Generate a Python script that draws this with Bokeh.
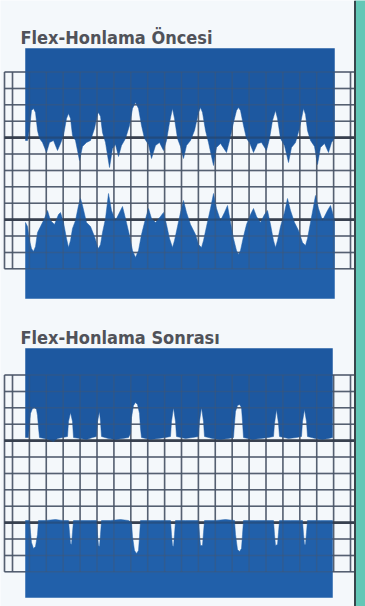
from bokeh.plotting import figure
from bokeh.models import Range1d
from bokeh.core.properties import value
from bokeh.embed import file_html
from bokeh.resources import INLINE

# ---------------- data (profile readings, panel units ~ px) ----------------
titles = ["Flex-Honlama Öncesi", "Flex-Honlama Sonrası"]

before_top_x = [25, 27, 29, 31, 33, 35, 37, 39, 42, 46, 49, 53, 57, 60, 63, 66, 68, 70, 72, 75,
                79, 82, 86, 90, 94, 97, 98, 100, 102, 105, 109, 112, 115, 118, 121, 125, 129, 132,
                135, 138, 141, 144, 148, 151, 155, 159, 163, 166, 169, 172, 174, 177, 180, 183, 186,
                190, 194, 198, 200, 202, 205, 208, 213, 216, 220, 226, 229, 233, 236, 238, 240, 243,
                246, 249, 253, 257, 261, 266, 269, 272, 275, 277, 280, 284, 288, 291, 295, 299, 303,
                305, 307, 310, 314, 317, 320, 324, 328, 331, 334]
before_top_y = [140, 140, 128, 110, 108, 112, 130, 138, 142, 152, 142, 140, 150, 143, 135, 118, 113, 118, 135, 140,
                160, 146, 142, 140, 128, 114, 112, 116, 132, 142, 167, 148, 144, 156, 145, 138, 125, 108,
                102, 108, 125, 138, 144, 158, 145, 142, 150, 140, 122, 108, 118, 138, 146, 158, 145,
                140, 130, 112, 107, 112, 130, 142, 165, 147, 143, 152, 140, 122, 110, 107, 110, 125,
                138, 142, 152, 143, 142, 150, 138, 120, 110, 118, 138, 145, 162, 147, 142, 128, 108,
                114, 130, 140, 146, 164, 147, 143, 152, 142, 138]

before_bot_x = [25, 27, 29, 31, 33, 35, 37, 40, 44, 47, 50, 54, 58, 60, 63, 66, 68, 70, 72, 75,
                78, 80, 82, 86, 90, 94, 97, 98, 100, 102, 105, 108, 111, 115, 120, 122, 125, 129,
                132, 135, 138, 141, 144, 148, 151, 155, 160, 163, 166, 169, 172, 174, 177, 180,
                183, 186, 190, 195, 198, 201, 203, 206, 210, 213, 216, 220, 224, 227, 230, 233,
                236, 238, 240, 243, 246, 250, 253, 256, 260, 264, 267, 270, 273, 275, 277, 280,
                284, 287, 290, 294, 298, 302, 305, 307, 310, 313, 315, 318, 322, 327, 330, 332, 334]
before_bot_y = [222, 226, 240, 248, 251, 246, 232, 226, 218, 210, 220, 224, 214, 212, 222, 238, 247, 240, 228, 220,
                205, 198, 205, 222, 226, 236, 246, 248, 244, 232, 218, 193, 210, 220, 210, 206, 218, 235,
                250, 257, 250, 234, 222, 208, 218, 222, 216, 212, 224, 238, 247, 240, 226, 212,
                200, 212, 224, 234, 244, 247, 240, 226, 208, 193, 208, 220, 212, 205, 222, 238,
                250, 254, 250, 236, 224, 214, 208, 216, 222, 214, 210, 224, 240, 247, 240, 226,
                212, 198, 210, 222, 230, 242, 245, 238, 222, 206, 195, 208, 220, 210, 205, 212, 220]

after_top_x = [25, 28, 29, 30, 32, 34, 36, 37, 38, 39, 44, 48, 53, 57, 62, 67, 68, 70, 72, 73,
               80, 86, 92, 96, 97, 99, 100, 101, 108, 115, 122, 128, 130, 131, 133, 135, 137, 139,
               140, 141, 150, 158, 165, 170, 171, 173, 175, 176, 185, 192, 198, 199, 201, 203, 204,
               212, 220, 228, 233, 234, 235, 237, 239, 241, 242, 243, 252, 260, 268, 273, 274, 276,
               278, 279, 288, 296, 301, 302, 304, 306, 307, 315, 322, 328, 332]
after_top_y = [134, 134, 120, 110, 105, 104, 106, 112, 124, 134, 135, 136, 138, 135, 134, 133, 118, 109, 118, 134,
               135, 136, 134, 133, 118, 108, 118, 133, 135, 136, 135, 134, 130, 114, 102, 99, 101, 110,
               125, 134, 136, 135, 134, 133, 118, 104, 118, 133, 135, 134, 133, 118, 104, 118, 133,
               135, 136, 135, 134, 120, 108, 102, 101, 104, 118, 134, 136, 135, 134, 133, 120, 106,
               120, 133, 135, 134, 133, 118, 106, 118, 133, 135, 136, 135, 134]

after_bot_x = [25, 29, 30, 31, 33, 35, 37, 38, 45, 55, 62, 68, 69, 70, 71, 72, 73, 80, 90, 96,
               97, 98, 99, 100, 101, 110, 120, 128, 131, 132, 134, 136, 138, 139, 140, 150, 160,
               170, 171, 172, 173, 174, 175, 185, 195, 198, 199, 200, 202, 203, 204, 215, 225, 234,
               235, 237, 239, 241, 242, 243, 255, 265, 273, 274, 275, 277, 278, 279, 290, 300, 302,
               303, 304, 305, 306, 307, 320, 332]
after_bot_y = [217, 217, 229, 239, 245, 243, 231, 217, 217, 216, 217, 217, 229, 240, 241, 229, 217, 217, 217, 217,
               231, 242, 243, 231, 217, 217, 216, 217, 219, 233, 247, 250, 247, 233, 217, 217, 217,
               217, 231, 242, 243, 231, 217, 217, 217, 217, 231, 242, 242, 229, 217, 217, 216, 217,
               231, 246, 248, 245, 231, 217, 217, 217, 217, 231, 242, 241, 229, 217, 217, 217, 217,
               231, 241, 241, 229, 217, 217, 217]

# ---------------- style / layout constants ----------------
W, H = 365, 606
PANEL_H = 303
BG = "#f4f8fb"
BLUE_TOP = "#1d58a0"
BLUE_BOT = "#2160aa"
GRID = "#4a5568"
GRID_THICK = "#2a3342"
TEAL = "#63c7b6"

GRID_X0, GRID_DX, GRID_NX = 12.0, 16.9, 21
GRID_Y0, GRID_DY, GRID_NY = 71.5, 16.4, 13
THICK_ROWS = (4, 9)
GRID_LEFT, GRID_RIGHT = 4.0, 354.0

p = figure(width=W, height=H, x_range=Range1d(0, W), y_range=Range1d(H, 0),
           output_backend="svg", toolbar_location=None,
           x_axis_type=None, y_axis_type=None, min_border=0,
           background_fill_color=BG, border_fill_color=BG, outline_line_color=None)
p.xgrid.visible = False
p.ygrid.visible = False


def grid(off, alpha, wthin, wthick):
    gy = [off + GRID_Y0 + i * GRID_DY for i in range(GRID_NY)]
    gx = [GRID_X0 + k * GRID_DX for k in range(GRID_NX)]
    thin_y = [y for i, y in enumerate(gy) if i not in THICK_ROWS]
    thick_y = [gy[i] for i in THICK_ROWS]
    p.segment(x0=[GRID_LEFT] * len(thin_y), x1=[GRID_RIGHT] * len(thin_y), y0=thin_y, y1=thin_y,
              line_color=GRID, line_width=wthin, line_alpha=alpha)
    p.segment(x0=gx + [GRID_LEFT], x1=gx + [GRID_LEFT],
              y0=[gy[0]] * (len(gx) + 1), y1=[gy[-1]] * (len(gx) + 1),
              line_color=GRID, line_width=wthin, line_alpha=alpha)
    p.segment(x0=[GRID_LEFT] * len(thick_y), x1=[GRID_RIGHT] * len(thick_y), y0=thick_y, y1=thick_y,
              line_color=GRID_THICK, line_width=wthick, line_alpha=alpha)


panels = [
    (titles[0], before_top_x, before_top_y, before_bot_x, before_bot_y, 25, 334, 48, 298, 37),
    (titles[1], after_top_x, after_top_y, after_bot_x, after_bot_y, 25, 332, 45, 294, 34),
]

for idx, (title, tx, ty, bx, by, xl, xr, top_edge, bot_edge, title_base) in enumerate(panels):
    off = idx * PANEL_H
    grid(off, 0.9, 1.5, 2.6)
    p.patch(x=[xl] + tx + [xr], y=[off + top_edge] + [off + v for v in ty] + [off + top_edge],
            fill_color=BLUE_TOP, line_color=BLUE_TOP, line_width=0.5)
    p.patch(x=[xl] + bx + [xr], y=[off + bot_edge] + [off + v for v in by] + [off + bot_edge],
            fill_color=BLUE_BOT, line_color=BLUE_BOT, line_width=0.5)
    grid(off, 0.35, 1.5, 2.4)
    p.text(x=[20], y=[off + title_base], text=[title],
           text_font=value("DejaVu Sans Condensed"),
           text_font_size="18px", text_font_style="bold", text_color="#505259",
           text_baseline="alphabetic", text_align="left")

# teal page edge and dark frame line on the right
p.quad(left=[GRID_RIGHT + 1], right=[W + 5], top=[-5], bottom=[H + 5], fill_color=TEAL, line_color=None)
p.segment(x0=[GRID_RIGHT + 0.5], x1=[GRID_RIGHT + 0.5], y0=[0], y1=[H],
          line_color="#38464c", line_width=2)

open("out.html", "w").write(file_html(p, INLINE))
